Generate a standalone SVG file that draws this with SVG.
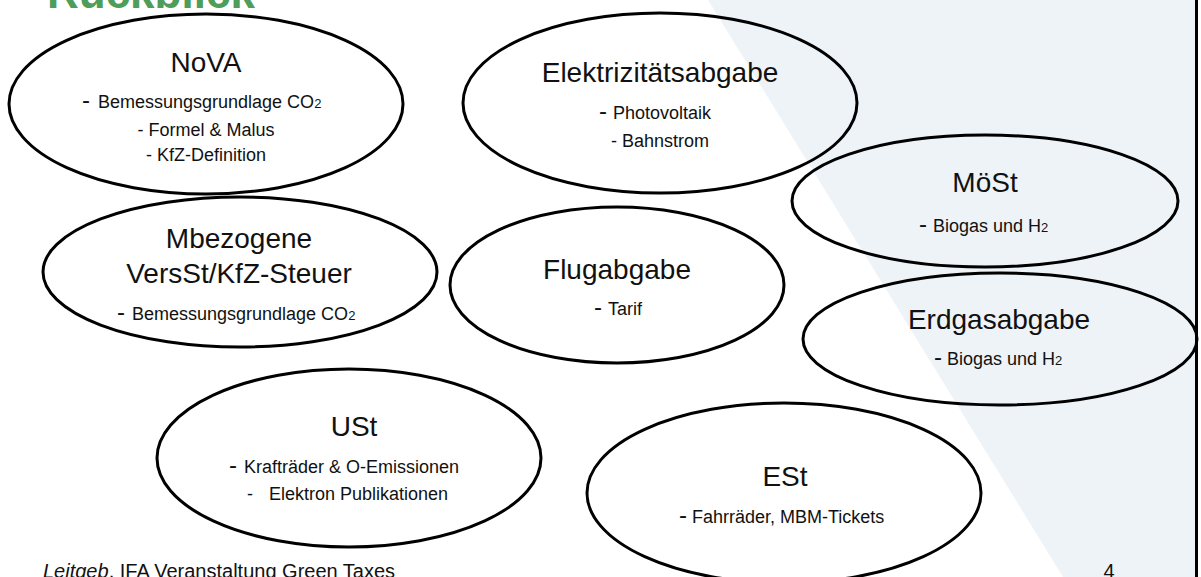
<svg xmlns="http://www.w3.org/2000/svg" width="1201" height="577" viewBox="0 0 1201 577">
<style>
  .ell { fill: none; stroke: #000; stroke-width: 3; }
  .t { font-family: "Liberation Sans", Arial, sans-serif; fill: #111; }
  .h { font-size: 28px; text-anchor: middle; }
  .i { font-size: 18px; }
  .c { text-anchor: middle; }
  .d { font-size: 24px; }
  .sub { font-size: 13px; }
</style>
<rect x="0" y="0" width="1201" height="577" fill="#ffffff"/>
<polygon points="708,0 1196,0 1196,577 1063,577" fill="#eef3f7"/>
<rect x="1195" y="0" width="3" height="577" fill="#000"/>
<text class="t" x="47" y="7.5" font-size="44" font-weight="bold" fill="#4f9d5b" style="fill:#4f9d5b">Rückblick</text>

<g id="connectors"></g>

<g id="nova">
  <ellipse class="ell" cx="206" cy="104" rx="197" ry="90"/>
  <text class="t h" x="206" y="72">NoVA</text>
  <text class="t i" y="108"><tspan class="d" x="82">-</tspan><tspan x="98">Bemessungsgrundlage CO<tspan class="sub">2</tspan></tspan></text>
  <text class="t i c" x="206" y="136">- Formel &amp; Malus</text>
  <text class="t i c" x="206" y="161">- KfZ-Definition</text>
</g>

<g id="elektrizitaet">
  <ellipse class="ell" cx="660" cy="103" rx="197" ry="90"/>
  <text class="t h" x="660" y="82">Elektrizitätsabgabe</text>
  <text class="t i" y="119"><tspan class="d" x="599">-</tspan><tspan x="613">Photovoltaik</tspan></text>
  <text class="t i c" x="660" y="147">- Bahnstrom</text>
</g>

<g id="moest">
  <ellipse class="ell" cx="985" cy="201" rx="193" ry="66"/>
  <text class="t h" x="985" y="192">MöSt</text>
  <text class="t i" y="232"><tspan class="d" x="919">-</tspan><tspan x="933">Biogas und H<tspan class="sub">2</tspan></tspan></text>
</g>

<g id="mbezogene">
  <ellipse class="ell" cx="240" cy="272" rx="197" ry="75"/>
  <text class="t h" x="239" y="248">Mbezogene</text>
  <text class="t h" x="239" y="283">VersSt/KfZ-Steuer</text>
  <text class="t i" y="320"><tspan class="d" x="117">-</tspan><tspan x="132">Bemessungsgrundlage CO<tspan class="sub">2</tspan></tspan></text>
</g>

<g id="flugabgabe">
  <ellipse class="ell" cx="617" cy="285" rx="167" ry="78"/>
  <text class="t h" x="617" y="279">Flugabgabe</text>
  <text class="t i" y="315"><tspan class="d" x="594">-</tspan><tspan x="608">Tarif</tspan></text>
</g>

<g id="erdgasabgabe">
  <ellipse class="ell" cx="1000" cy="339" rx="197" ry="66"/>
  <text class="t h" x="999" y="329">Erdgasabgabe</text>
  <text class="t i" y="365"><tspan class="d" x="934">-</tspan><tspan x="947">Biogas und H<tspan class="sub">2</tspan></tspan></text>
</g>

<g id="ust">
  <ellipse class="ell" cx="349" cy="458" rx="192" ry="89"/>
  <text class="t h" x="354" y="436">USt</text>
  <text class="t i" y="473"><tspan class="d" x="229">-</tspan><tspan x="244">Krafträder &amp; O-Emissionen</tspan></text>
  <text class="t i" y="500"><tspan x="247">-</tspan><tspan x="269">Elektron Publikationen</tspan></text>
</g>

<g id="est">
  <ellipse class="ell" cx="784" cy="493" rx="197" ry="90"/>
  <text class="t h" x="785" y="486">ESt</text>
  <text class="t i" y="523"><tspan class="d" x="679">-</tspan><tspan x="692">Fahrräder, MBM-Tickets</tspan></text>
</g>

<text class="t" x="43" y="578" font-size="20"><tspan font-style="italic">Leitgeb</tspan>, IFA Veranstaltung Green Taxes</text>
<text class="t" x="1109" y="578" font-size="20" text-anchor="middle">4</text>
</svg>
